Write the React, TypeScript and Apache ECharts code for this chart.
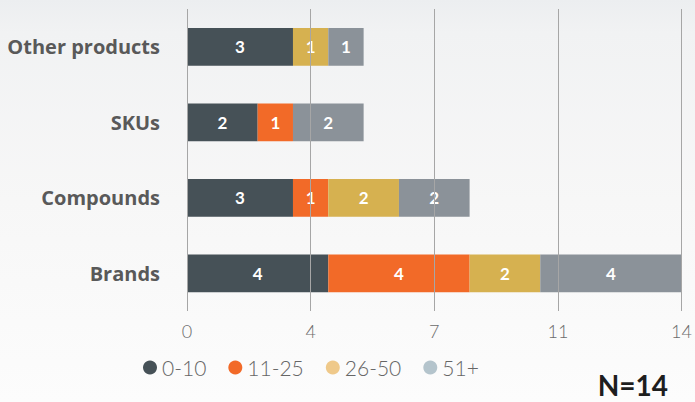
import React, { useEffect, useRef } from "react";
import * as echarts from "echarts";

const categories = ["Brands", "Compounds", "SKUs", "Other products"];
const seriesNames = ["0-10", "11-25", "26-50", "51+"];
const s0to10 = [4, 3, 2, 3];
const s11to25 = [4, 1, 1, 0];
const s26to50 = [2, 2, 0, 1];
const s51plus = [4, 2, 2, 1];
const xTicks = [0, 3.5, 7, 10.5, 14];

const barColors = ["#465157", "#f26a28", "#d6b150", "#8b9299"];
const legendColors = ["#465157", "#f26a28", "#efc98a", "#b4c4cc"];

export default function App() {
  const ref = useRef<HTMLDivElement>(null);
  useEffect(() => {
    if (!ref.current) return;
    const chart = echarts.init(ref.current, null, { renderer: "svg" });
    const values = [s0to10, s11to25, s26to50, s51plus];
    chart.setOption({
      animation: false,
      backgroundColor: new echarts.graphic.LinearGradient(0, 0, 0, 1, [
        { offset: 0, color: "#eceef0" },
        { offset: 0.08, color: "#f1f2f3" },
        { offset: 0.5, color: "#f7f7f7" },
        { offset: 1, color: "#fcfcfc" },
      ]),
      grid: { left: 187, right: 11, top: 9, bottom: 91, containLabel: false },
      xAxis: {
        type: "value",
        min: 0,
        max: xTicks[xTicks.length - 1],
        interval: xTicks[1] - xTicks[0],
        z: 10,
        axisLine: { show: false },
        axisTick: { show: false },
        splitLine: { show: true, lineStyle: { color: "#a6a6a6", width: 1 } },
        axisLabel: {
          margin: 11,
          color: "#6b6b6b",
          fontFamily: "Lato",
          fontWeight: 300,
          fontSize: 18,
          formatter: (v: number) => String(Math.round(v)),
        },
      },
      yAxis: {
        type: "category",
        data: categories,
        axisLine: { show: false },
        axisTick: { show: false },
        axisLabel: {
          margin: 27,
          color: "#595959",
          fontFamily: "Open Sans",
          fontWeight: "bold",
          fontSize: 20,
        },
      },
      legend: {
        left: 138,
        top: 352,
        icon: "circle",
        itemWidth: 14,
        itemHeight: 14,
        itemGap: 22,
        textStyle: {
          color: "#666666",
          fontFamily: "Lato",
          fontWeight: 300,
          fontSize: 21,
        },
        data: seriesNames.map((n, i) => ({ name: n, itemStyle: { color: legendColors[i] } })),
      },
      graphic: [
        {
          type: "text",
          right: 27,
          top: 371,
          style: {
            text: "N=14",
            fill: "#1e1e1e",
            font: "bold 28px Lato",
            lineHeight: 28,
          },
        },
      ],
      series: seriesNames.map((n, i) => ({
        name: n,
        type: "bar",
        stack: "total",
        barWidth: "50%",
        itemStyle: { color: barColors[i] },
        label: {
          show: true,
          position: "inside",
          color: "#ffffff",
          fontFamily: "Lato",
          fontWeight: "bold",
          fontSize: 17,
          formatter: (p: any) => (p.value ? String(p.value) : ""),
        },
        data: values[i],
      })),
    });
    return () => chart.dispose();
  }, []);
  return (
    <div
      ref={ref}
      style={{ position: "fixed", left: 0, top: 0, width: 695, height: 402 }}
    />
  );
}
